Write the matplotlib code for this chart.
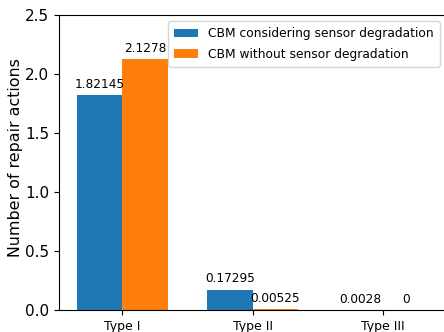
import numpy as np
import matplotlib
matplotlib.use('Agg')
import matplotlib.pyplot as plt

categories = ['Type I', 'Type II', 'Type III']
with_degradation = [1.82145, 0.17295, 0.0028]
without_degradation = [2.1278, 0.00525, 0]
series_names = ['CBM considering sensor degradation', 'CBM without sensor degradation']

fig = plt.figure(figsize=(4.44, 3.32), dpi=100)
ax = fig.add_axes([59 / 444, 22 / 332, 387 / 444, 295 / 332])

x = np.arange(len(categories))
w = 0.35
b1 = ax.bar(x - w / 2, with_degradation, w, color='#1f77b4', label=series_names[0])
b2 = ax.bar(x + w / 2, without_degradation, w, color='#ff7f0e', label=series_names[1])

for bars, vals in [(b1, with_degradation), (b2, without_degradation)]:
    for rect, v in zip(bars, vals):
        ax.annotate(f'{v:g}', xy=(rect.get_x() + rect.get_width() / 2, rect.get_height()),
                    xytext=(0, 3), textcoords='offset points', ha='center', va='bottom',
                    fontsize=8.7)

ax.set_xticks(x)
ax.set_xticklabels(categories, fontsize=9)
ax.set_ylim(0, 2.5)
ax.set_xlim(-0.485, 2.485)
ax.set_yticks([0, 0.5, 1.0, 1.5, 2.0, 2.5])
ax.tick_params(axis='y', labelsize=11)
ax.set_ylabel('Number of repair actions', fontsize=11.4)
ax.yaxis.set_label_coords(-0.092, 0.517)
ax.legend(loc='upper right', fontsize=8.8, labelspacing=0.6, borderpad=0.5)

fig.savefig('out.png', dpi=100)
